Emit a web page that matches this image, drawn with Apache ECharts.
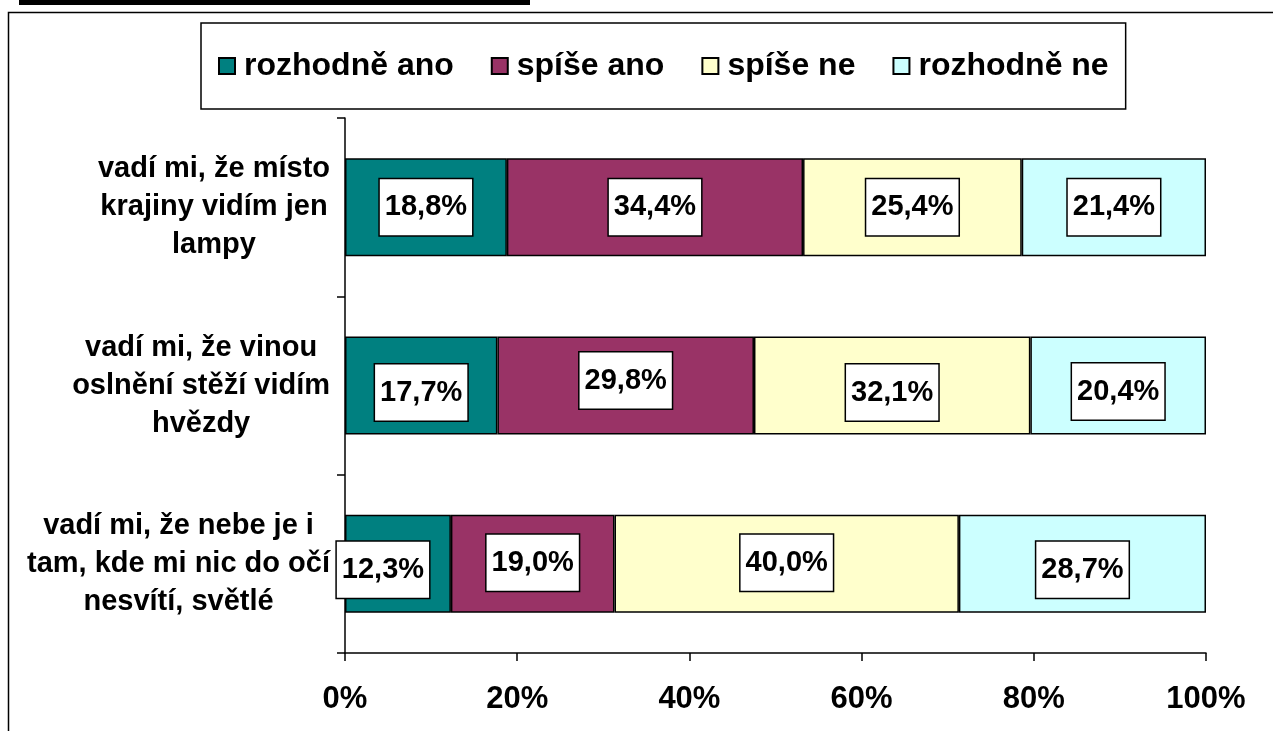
<!DOCTYPE html>
<html>
<head>
<meta charset="utf-8">
<script src="https://cdn.jsdelivr.net/npm/echarts@6/dist/echarts.min.js"></script>
<style>
  html, body { margin: 0; padding: 0; background: #fff; }
  #chart { width: 1273px; height: 731px; }
</style>
</head>
<body>
<div id="chart"></div>
<script>
// categories, top to bottom
const categories = [
    'vadí mi, že místo\nkrajiny vidím jen\nlampy',
    'vadí mi, že vinou\noslnění stěží vidím\nhvězdy',
    'vadí mi, že nebe je i\ntam, kde mi nic do očí\nnesvítí, světlé'
];
const seriesNames = ['rozhodně ano', 'spíše ano', 'spíše ne', 'rozhodně ne'];
const rozhodneAno = [18.8, 17.7, 12.3];
const spiseAno = [34.4, 29.8, 19.0];
const spiseNe = [25.4, 32.1, 40.0];
const rozhodneNe = [21.4, 20.4, 28.7];
const xTicks = [0, 20, 40, 60, 80, 100];

const colors = ['#008080', '#993366', '#FFFFCC', '#CCFFFF'];
// small nudges Excel applied to some labels
const labelOffsets = [
    [[0, 0], [0, 7], [-15, 6]],
    [[0, 0], [0, -5], [0, -1]],
    [[0, 0], [0, 7], [0, -1]],
    [[0, 0], [0, 6], [0, 6]]
];

const font = "'Liberation Sans', Arial, sans-serif";
const chart = echarts.init(document.getElementById('chart'));

const allValues = [rozhodneAno, spiseAno, spiseNe, rozhodneNe];

const option = {
    animation: false,
    textStyle: { fontFamily: font },
    graphic: [
        {
            type: 'rect',
            z: -10,
            shape: { x: 19, y: 0, width: 511, height: 5 },
            style: { fill: '#000' }
        },
        {
            type: 'rect',
            z: -10,
            shape: { x: 8.5, y: 12.5, width: 1300, height: 800 },
            style: { fill: 'none', stroke: '#000', lineWidth: 1.5 }
        }
    ],
    legend: {
        data: seriesNames,
        left: 201,
        top: 23,
        padding: [27, 17, 27, 17],
        itemGap: 37,
        itemWidth: 16,
        itemHeight: 16,
        borderColor: '#000',
        borderWidth: 1.5,
        icon: 'rect',
        textStyle: {
            fontFamily: font,
            fontSize: 32,
            fontWeight: 'bold',
            color: '#000',
            padding: [3, 0, 0, 4]
        }
    },
    grid: {
        left: 345,
        right: 67,
        top: 118,
        bottom: 78,
        containLabel: false
    },
    xAxis: {
        type: 'value',
        min: 0,
        max: 100,
        interval: 20,
        axisLine: { show: true, lineStyle: { color: '#000', width: 1.5 } },
        axisTick: { show: true, length: 8, lineStyle: { color: '#000', width: 1.5 } },
        splitLine: { show: false },
        axisLabel: {
            formatter: '{value}%',
            margin: 31,
            fontFamily: font,
            fontSize: 31,
            fontWeight: 'bold',
            color: '#000'
        }
    },
    yAxis: {
        type: 'category',
        data: categories,
        inverse: true,
        axisLine: { show: true, lineStyle: { color: '#000', width: 1.5 } },
        axisTick: { show: true, length: 8, lineStyle: { color: '#000', width: 1.5 } },
        axisLabel: {
            margin: 15,
            align: 'right',
            formatter: function (v) {
                return v.split('\n').map(l => '{c|' + l + '}').join('\n');
            },
            rich: {
                c: {
                    align: 'center',
                    fontFamily: font,
                    fontSize: 29,
                    fontWeight: 'bold',
                    lineHeight: 38,
                    color: '#000'
                }
            }
        }
    },
    series: seriesNames.map((name, si) => ({
        name: name,
        type: 'bar',
        stack: 'total',
        barWidth: 98,
        itemStyle: {
            color: colors[si],
            borderColor: '#000',
            borderWidth: 1.5
        },
        label: {
            show: true,
            position: 'inside',
            formatter: p => p.value.toFixed(1).replace('.', ',') + '%',
            fontFamily: font,
            fontSize: 29,
            fontWeight: 'bold',
            color: '#000',
            backgroundColor: '#fff',
            borderColor: '#000',
            borderWidth: 1.5,
            padding: [15, 5, 12, 5]
        },
        data: allValues[si].map((v, ci) => ({
            value: v,
            label: { offset: labelOffsets[si][ci] }
        }))
    }))
};

chart.setOption(option);
</script>
</body>
</html>
